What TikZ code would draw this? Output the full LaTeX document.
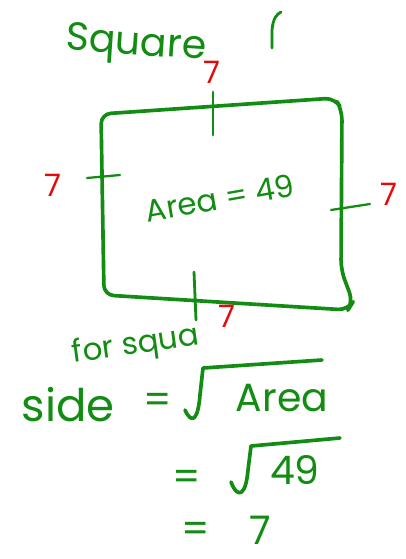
\documentclass[tikz,border=0pt]{standalone}
\usepackage{fontspec}
\setmainfont{Poppins}
\definecolor{pen}{RGB}{18,140,18}
\definecolor{redpen}{RGB}{228,10,10}
\begin{document}
\begin{tikzpicture}[x=0.025cm, y=-0.025cm,
        ink/.style={draw=pen, line width=2.6pt, line cap=round, line join=round},
        every node/.style={inner sep=0pt, text=pen},
        hand/.style={font=\fontsize{28}{30}\selectfont},
        small hand/.style={font=\fontsize{22}{24}\selectfont},
        side label/.style={text=redpen, font=\fontsize{22}{24}\selectfont}
    ]
        \useasboundingbox (0,0) rectangle (406,559);

        % title
        \node[hand, rotate=-4] (title) at (136,46) {Square};
        \draw[ink, line width=2pt] (272,48) -- (272,30) .. controls (273,18) and (277,14) .. (281,12);

        % the square and its tick marks
        \draw[ink, rounded corners=7] (101,114) -- (335,98) -- (342,110) -- (341,270)
            -- (353,302) -- (348,310) -- (104,295) -- cycle;
        \draw[ink, line width=2pt] (213,92) -- (213,135);
        \draw[ink, line width=1.6pt] (87,178) -- (120,175);
        \draw[ink, line width=1.6pt] (331,210) -- (370,204);
        \draw[ink, line width=2pt] (194,272) -- (196,320);

        % side lengths
        \node[side label] (top) at (212,72) {7};
        \node[side label] (left) at (53,185) {7};
        \node[side label] (right) at (389,194) {7};
        \node[side label] (bottom) at (227,316) {7};

        \node[small hand, rotate=10] (area) at (220,198) {Area = 49};

        % formula
        \node[small hand, rotate=8] (forsq) at (136,346) {for squa};
        \node[hand, font=\fontsize{32}{34}\selectfont] (side) at (68,405) {side};
        \node[hand] (eq1) at (158,403) {=};
        \node[hand] (rootA) at (282,398) {Area};
        \draw[ink] (185,410) .. controls (192,425) and (198,420) .. (200,395)
            -- (203,368) -- (322,360);
        \node[hand] (eq2) at (187,480) {=};
        \node[hand] (rootB) at (295,470) {49};
        \draw[ink] (231,482) .. controls (238,500) and (246,495) .. (248,470)
            -- (251,446) -- (340,438);
        \node[hand] (eq3) at (196,532) {=};
        \node[hand] (seven) at (260,530) {7};
    \end{tikzpicture}
\end{document}
